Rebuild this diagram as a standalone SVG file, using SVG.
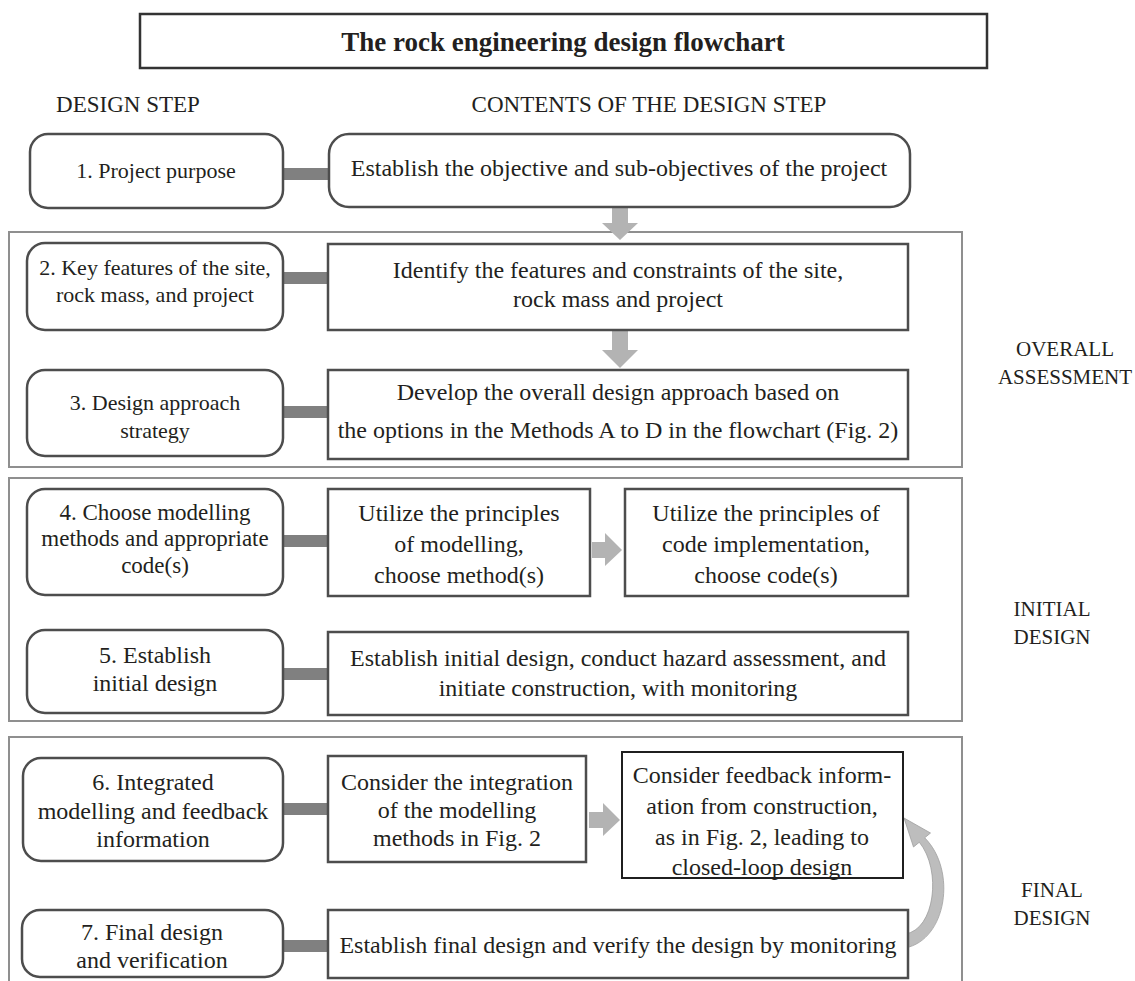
<svg xmlns="http://www.w3.org/2000/svg" width="1135" height="981" viewBox="0 0 1135 981">
  <style>
    text { font-family: "Liberation Serif", "Times New Roman", serif; fill: #231f20; text-anchor: middle; }
    .title { font-size: 27px; font-weight: bold; }
    .head { font-size: 23px; }
    .side { font-size: 21px; }
    .step { font-size: 22px; }
    .step-l { font-size: 23px; }
    .body { font-size: 24px; }
    .step-box { fill: #ffffff; stroke: #4d4d4d; stroke-width: 2.5; }
    .body-box { fill: #ffffff; stroke: #4d4d4d; stroke-width: 2.5; }
    .phase { fill: none; stroke: #8f8f8f; stroke-width: 2; }
    .bar { fill: #808080; }
    .flow { fill: #b3b3b3; }
  </style>

  <!-- title -->
  <g id="title">
    <rect x="140" y="14" width="847" height="54" fill="#ffffff" stroke="#333333" stroke-width="2.5"/>
    <text class="title" x="563" y="51">The rock engineering design flowchart</text>
  </g>

  <!-- column headings -->
  <text class="head" x="128" y="112">DESIGN STEP</text>
  <text class="head" x="649" y="112">CONTENTS OF THE DESIGN STEP</text>

  <!-- phase frames -->
  <g id="phases">
    <rect class="phase" x="9" y="232" width="953" height="235"/>
    <rect class="phase" x="9" y="478" width="953" height="243"/>
    <path class="phase" d="M9,990 V737 H962 V990"/>
  </g>
  <text class="side" x="1065" y="356">OVERALL</text>
  <text class="side" x="1065" y="384">ASSESSMENT</text>
  <text class="side" x="1052" y="616">INITIAL</text>
  <text class="side" x="1052" y="644">DESIGN</text>
  <text class="side" x="1052" y="897">FINAL</text>
  <text class="side" x="1052" y="925">DESIGN</text>

  <!-- connectors -->
  <g id="connectors">
    <!-- step-to-content bars -->
    <rect class="bar" x="283" y="168" width="46" height="12"/>
    <rect class="bar" x="283" y="272" width="46" height="12"/>
    <rect class="bar" x="283" y="406" width="46" height="12"/>
    <rect class="bar" x="283" y="535" width="46" height="12"/>
    <rect class="bar" x="283" y="668" width="46" height="12"/>
    <rect class="bar" x="283" y="803" width="46" height="12"/>
    <rect class="bar" x="283" y="940" width="46" height="12"/>
    <!-- down arrows -->
    <path class="flow" d="M612,207 H628 V223 H638 L620,240 L602,223 H612 Z"/>
    <path class="flow" d="M612,330 H628 V350 H638 L620,368 L602,350 H612 Z"/>
    <!-- right arrows -->
    <path class="flow" d="M592,542 H605 V533 L622,550 L605,566 V558 H592 Z"/>
    <path class="flow" d="M589,812 H603 V803 L620,820 L603,836 V828 H589 Z"/>
    <!-- feedback loop from final design back to construction feedback -->
    <path d="M905,948 C947,940 957,870 924.7,837.8 L930.5,833 L904,818 L913.5,847 L919.3,842.2 C942,870 935,930 905,934 Z" fill="#bdbdbd" stroke="#9e9e9e" stroke-width="0.8"/>
  </g>

  <!-- step 1 -->
  <g id="step1">
    <rect class="step-box" x="30" y="134" width="253" height="74" rx="18"/>
    <text class="step" x="156" y="178">1. Project purpose</text>
  </g>
  <g id="content1">
    <rect class="body-box" x="329" y="134" width="581" height="73" rx="20"/>
    <text class="body" x="619" y="176">Establish the objective and sub-objectives of the project</text>
  </g>

  <!-- step 2 -->
  <g id="step2">
    <rect class="step-box" x="27" y="243" width="256" height="87" rx="18"/>
    <text class="step" x="155" y="275">2. Key features of the site,</text>
    <text class="step" x="155" y="302">rock mass, and project</text>
  </g>
  <g id="content2">
    <rect class="body-box" x="328" y="244" width="580" height="86"/>
    <text class="body" x="618" y="278">Identify the features and constraints of the site,</text>
    <text class="body" x="618" y="307">rock mass and project</text>
  </g>

  <!-- step 3 -->
  <g id="step3">
    <rect class="step-box" x="27" y="370" width="256" height="86" rx="18"/>
    <text class="step" x="155" y="410">3. Design approach</text>
    <text class="step" x="155" y="438">strategy</text>
  </g>
  <g id="content3">
    <rect class="body-box" x="328" y="370" width="580" height="89"/>
    <text class="body" x="618" y="400">Develop the overall design approach based on</text>
    <text class="body" x="618" y="438">the options in the Methods A to D in the flowchart (Fig. 2)</text>
  </g>

  <!-- step 4 -->
  <g id="step4">
    <rect class="step-box" x="27" y="489" width="256" height="106" rx="18"/>
    <text class="step-l" x="155" y="520">4. Choose modelling</text>
    <text class="step-l" x="155" y="546">methods and appropriate</text>
    <text class="step-l" x="155" y="573">code(s)</text>
  </g>
  <g id="content4a">
    <rect class="body-box" x="328" y="489" width="262" height="107"/>
    <text class="body" x="459" y="521">Utilize the principles</text>
    <text class="body" x="459" y="552">of modelling,</text>
    <text class="body" x="459" y="583">choose method(s)</text>
  </g>
  <g id="content4b">
    <rect class="body-box" x="625" y="489" width="283" height="107"/>
    <text class="body" x="766" y="521">Utilize the principles of</text>
    <text class="body" x="766" y="552">code implementation,</text>
    <text class="body" x="766" y="583">choose code(s)</text>
  </g>

  <!-- step 5 -->
  <g id="step5">
    <rect class="step-box" x="27" y="630" width="256" height="83" rx="18"/>
    <text class="body" x="155" y="663">5. Establish</text>
    <text class="body" x="155" y="691">initial design</text>
  </g>
  <g id="content5">
    <rect class="body-box" x="328" y="632" width="580" height="83"/>
    <text class="body" x="618" y="666">Establish initial design, conduct hazard assessment, and</text>
    <text class="body" x="618" y="696">initiate construction, with monitoring</text>
  </g>

  <!-- step 6 -->
  <g id="step6">
    <rect class="step-box" x="23" y="758" width="260" height="103" rx="18"/>
    <text class="body" x="153" y="790">6. Integrated</text>
    <text class="body" x="153" y="819">modelling and feedback</text>
    <text class="body" x="153" y="847">information</text>
  </g>
  <g id="content6a">
    <rect class="body-box" x="328" y="756" width="258" height="106"/>
    <text class="body" x="457" y="790">Consider the integration</text>
    <text class="body" x="457" y="818">of the modelling</text>
    <text class="body" x="457" y="846">methods in Fig. 2</text>
  </g>
  <g id="content6b">
    <rect x="622" y="752" width="281" height="126" fill="#ffffff" stroke="#1f1f1f" stroke-width="2"/>
    <text class="body" x="762" y="783">Consider feedback inform-</text>
    <text class="body" x="762" y="814">ation from construction,</text>
    <text class="body" x="762" y="845">as in Fig. 2, leading to</text>
    <text class="body" x="762" y="875">closed-loop design</text>
  </g>

  <!-- step 7 -->
  <g id="step7">
    <rect class="step-box" x="22" y="910" width="261" height="67" rx="18"/>
    <text class="body" x="152" y="940">7. Final design</text>
    <text class="body" x="152" y="968">and verification</text>
  </g>
  <g id="content7">
    <rect class="body-box" x="328" y="910" width="580" height="68"/>
    <text class="body" x="618" y="953">Establish final design and verify the design by monitoring</text>
  </g>
</svg>
